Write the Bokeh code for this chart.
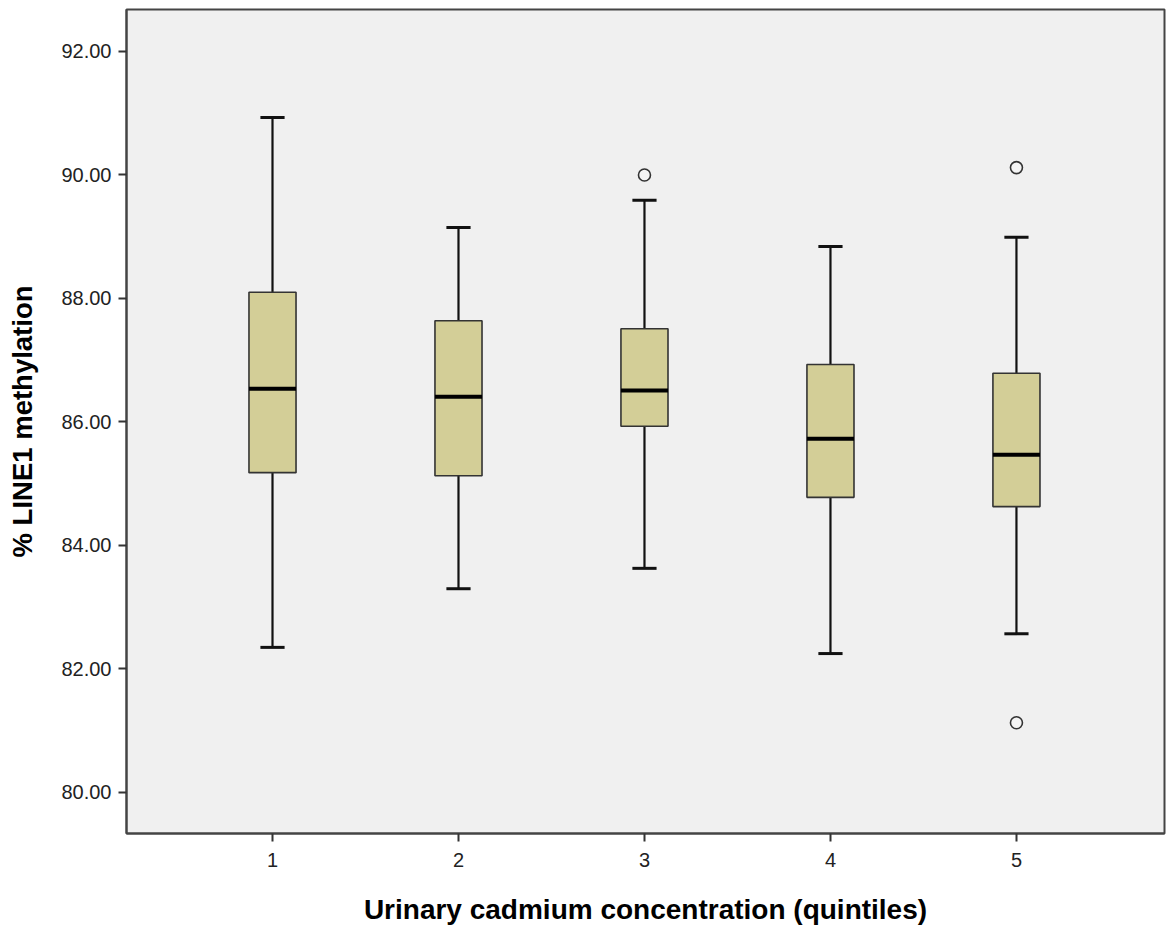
from bokeh.plotting import figure
from bokeh.models import Range1d, FixedTicker, NumeralTickFormatter, ColumnDataSource
from bokeh.embed import file_html
from bokeh.resources import INLINE

# ---- data ----
categories = ["1", "2", "3", "4", "5"]
whisker_low = [82.35, 83.30, 83.63, 82.25, 82.57]
q1 = [85.18, 85.13, 85.93, 84.78, 84.63]
median = [86.54, 86.41, 86.51, 85.73, 85.47]
q3 = [88.10, 87.64, 87.51, 86.93, 86.79]
whisker_high = [90.93, 89.15, 89.59, 88.84, 88.99]
outlier_cat = ["3", "5", "5"]
outlier_val = [90.00, 90.12, 81.13]
y_ticks = [80, 82, 84, 86, 88, 90, 92]

# ---- styles ----
BOX_W = 0.253
CAP_HALF = 0.065
FONT = "Liberation Sans"

xpos = [categories.index(c) + 1 for c in categories]
src = ColumnDataSource(dict(
    x=xpos, lo=whisker_low, q1=q1, med=median, q3=q3, hi=whisker_high,
    xl=[x - BOX_W / 2 for x in xpos], xr=[x + BOX_W / 2 for x in xpos],
    cl=[x - CAP_HALF for x in xpos], cr=[x + CAP_HALF for x in xpos],
))
osrc = ColumnDataSource(dict(
    x=[categories.index(c) + 1 for c in outlier_cat], y=outlier_val))

p = figure(
    output_backend="svg", toolbar_location=None,
    frame_width=1038, frame_height=824,
    min_border_left=126, min_border_right=2, min_border_top=9, min_border_bottom=0,
    x_range=Range1d(0.215, 5.796), y_range=Range1d(79.336, 92.68),
    background_fill_color="#f0f0f0", border_fill_color="white",
)
p.grid.visible = False
p.outline_line_color = "#444444"
p.outline_line_width = 2

# whiskers
p.segment(x0="x", y0="lo", x1="x", y1="q1", source=src, line_color="#111111", line_width=2.2)
p.segment(x0="x", y0="q3", x1="x", y1="hi", source=src, line_color="#111111", line_width=2.2)
# caps
p.segment(x0="cl", y0="lo", x1="cr", y1="lo", source=src, line_color="#111111", line_width=3)
p.segment(x0="cl", y0="hi", x1="cr", y1="hi", source=src, line_color="#111111", line_width=3)
# boxes
p.quad(left="xl", right="xr", bottom="q1", top="q3", source=src,
       fill_color="#d3ce97", line_color="#333333", line_width=1.6)
# medians
p.segment(x0="xl", y0="med", x1="xr", y1="med", source=src, line_color="black", line_width=4)
# outliers
p.scatter(x="x", y="y", source=osrc, marker="circle", size=12,
          fill_color="#f4f4f4", line_color="#333333", line_width=1.6)

# axes
for ax in (p.xaxis[0], p.yaxis[0]):
    ax.axis_line_color = "#444444"
    ax.axis_line_width = 2
    ax.major_tick_line_color = "#333333"
    ax.major_tick_line_width = 2
    ax.major_tick_out = 8
    ax.major_tick_in = 0
    ax.minor_tick_out = 0
    ax.minor_tick_in = 0
    ax.major_label_text_font = FONT
    ax.major_label_text_font_size = "20px"
    ax.major_label_text_color = "#222222"
    ax.axis_label_text_font = FONT
    ax.axis_label_text_font_style = "bold"
    ax.axis_label_text_color = "black"

p.xaxis.ticker = FixedTicker(ticks=xpos)
p.xaxis.major_label_overrides = {x: c for x, c in zip(xpos, categories)}
p.xaxis.major_label_standoff = 11
p.xaxis.axis_label = "Urinary cadmium concentration (quintiles)"
p.xaxis.axis_label_text_font_size = "28px"
p.xaxis.axis_label_standoff = 24

p.yaxis.ticker = FixedTicker(ticks=y_ticks)
p.yaxis.formatter = NumeralTickFormatter(format="0.00")
p.yaxis.major_label_standoff = 7
p.yaxis.axis_label = "% LINE1 methylation"
p.yaxis.axis_label_text_font_size = "27.5px"
p.yaxis.axis_label_standoff = 20

open("out.html", "w").write(file_html(p, INLINE))
